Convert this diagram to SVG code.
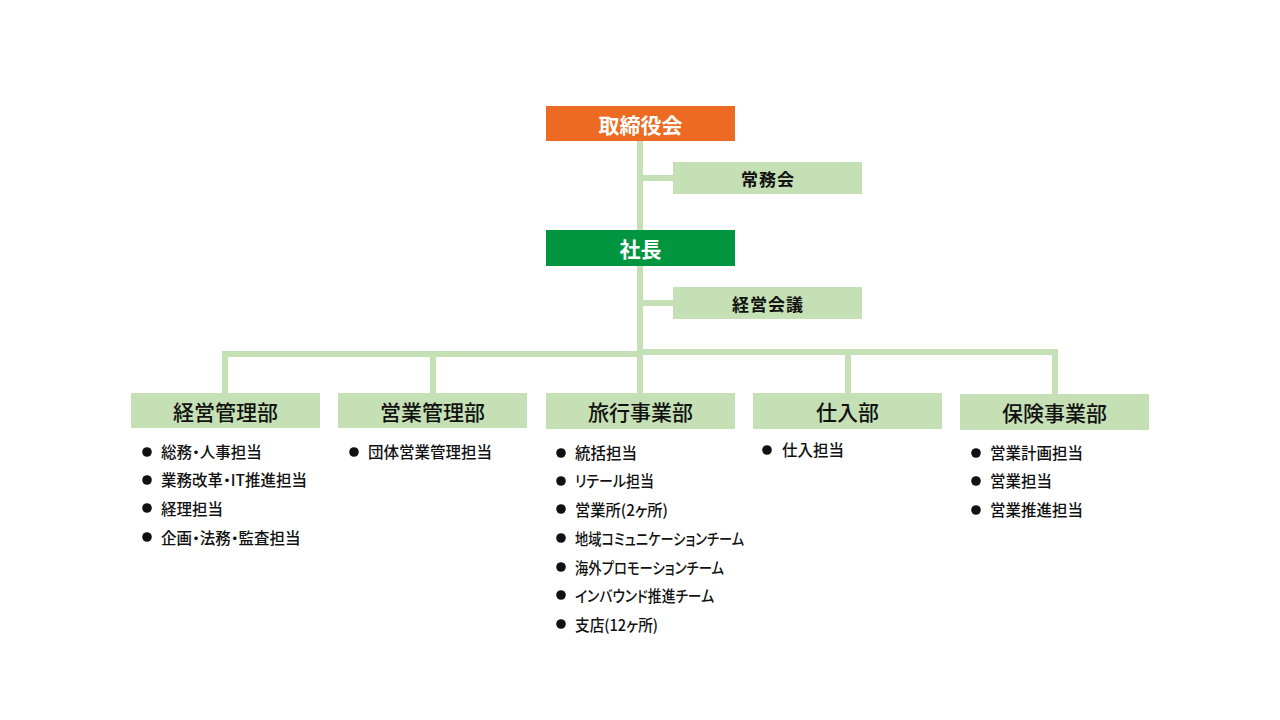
<svg xmlns="http://www.w3.org/2000/svg" width="1280" height="720" viewBox="0 0 1280 720">
<style>
.ln{stroke:#C5E0B4;stroke-width:6;fill:none}
.lg{fill:#C5E0B4}
.t{font-family:"Noto Sans CJK JP","Noto Sans",sans-serif;dominant-baseline:central;text-anchor:middle}
.h{font-size:21px;font-weight:500;fill:#111}
.w{font-size:21px;font-weight:700;fill:#fff}
.s{font-size:17px;font-weight:700;fill:#111;letter-spacing:1px}
.li{font-family:"Noto Sans CJK JP","Noto Sans",sans-serif;font-size:15.5px;font-weight:500;fill:#111;dominant-baseline:central;font-feature-settings:"palt" 1}
.b{fill:#111}
</style>
<rect width="1280" height="720" fill="#fff"/>
<g id="connectors">
<path class="ln" d="M640 141 V393"/>
<path class="ln" d="M643 178 H673"/>
<path class="ln" d="M643 303 H673"/>
<path class="ln" d="M225 393 V354 H640"/>
<path class="ln" d="M433 354 V393"/>
<path class="ln" d="M640 352 H1055 V394"/>
<path class="ln" d="M848 352 V393"/>
</g>
<g id="board">
<rect x="546" y="106" width="189" height="35" fill="#EC6A22"/>
<text class="t w" x="640.5" y="123.5">取締役会</text>
</g>
<g id="jomukai">
<rect class="lg" x="673" y="162" width="189" height="32"/>
<text class="t s" x="768" y="178">常務会</text>
</g>
<g id="president">
<rect x="546" y="230" width="189" height="36" fill="#009640"/>
<text class="t w" x="640.5" y="248">社長</text>
</g>
<g id="keiei-kaigi">
<rect class="lg" x="673" y="287" width="189" height="32"/>
<text class="t s" x="768" y="303">経営会議</text>
</g>
<g id="keiei-kanri">
<rect class="lg" x="131" y="393" width="189" height="35"/>
<text class="t h" x="225.5" y="410.5">経営管理部</text>
<circle class="b" cx="147" cy="452" r="4.8"/><text class="li" x="161" y="451">総務・人事担当</text>
<circle class="b" cx="147" cy="480" r="4.8"/><text class="li" x="161" y="479">業務改革・IT推進担当</text>
<circle class="b" cx="147" cy="508" r="4.8"/><text class="li" x="161" y="508">経理担当</text>
<circle class="b" cx="147" cy="537" r="4.8"/><text class="li" x="161" y="537">企画・法務・監査担当</text>
</g>
<g id="eigyo-kanri">
<rect class="lg" x="338" y="393" width="189" height="35"/>
<text class="t h" x="432.5" y="410.5">営業管理部</text>
<circle class="b" cx="354" cy="452" r="4.8"/><text class="li" x="368" y="451">団体営業管理担当</text>
</g>
<g id="ryoko">
<rect class="lg" x="546" y="393" width="189" height="36"/>
<text class="t h" x="640.5" y="411">旅行事業部</text>
<circle class="b" cx="561" cy="453" r="4.8"/><text class="li" x="575" y="452">統括担当</text>
<circle class="b" cx="561" cy="481" r="4.8"/><text class="li" x="575" y="480" textLength="79" lengthAdjust="spacingAndGlyphs">リテール担当</text>
<circle class="b" cx="561" cy="509" r="4.8"/><text class="li" x="575" y="509" textLength="93" lengthAdjust="spacingAndGlyphs">営業所(2ヶ所)</text>
<circle class="b" cx="561" cy="538" r="4.8"/><text class="li" x="575" y="538" textLength="169" lengthAdjust="spacingAndGlyphs">地域コミュニケーションチーム</text>
<circle class="b" cx="561" cy="567" r="4.8"/><text class="li" x="575" y="567" textLength="149" lengthAdjust="spacingAndGlyphs">海外プロモーションチーム</text>
<circle class="b" cx="561" cy="595" r="4.8"/><text class="li" x="575" y="595" textLength="139" lengthAdjust="spacingAndGlyphs">インバウンド推進チーム</text>
<circle class="b" cx="561" cy="624" r="4.8"/><text class="li" x="575" y="624" textLength="83" lengthAdjust="spacingAndGlyphs">支店(12ヶ所)</text>
</g>
<g id="shiire">
<rect class="lg" x="753" y="393" width="189" height="36"/>
<text class="t h" x="847.5" y="411">仕入部</text>
<circle class="b" cx="767" cy="450" r="4.8"/><text class="li" x="782" y="449">仕入担当</text>
</g>
<g id="hoken">
<rect class="lg" x="960" y="394" width="189" height="36"/>
<text class="t h" x="1054.5" y="412">保険事業部</text>
<circle class="b" cx="976" cy="453" r="4.8"/><text class="li" x="990" y="452">営業計画担当</text>
<circle class="b" cx="976" cy="481" r="4.8"/><text class="li" x="990" y="480">営業担当</text>
<circle class="b" cx="976" cy="510" r="4.8"/><text class="li" x="990" y="509">営業推進担当</text>
</g>
</svg>
